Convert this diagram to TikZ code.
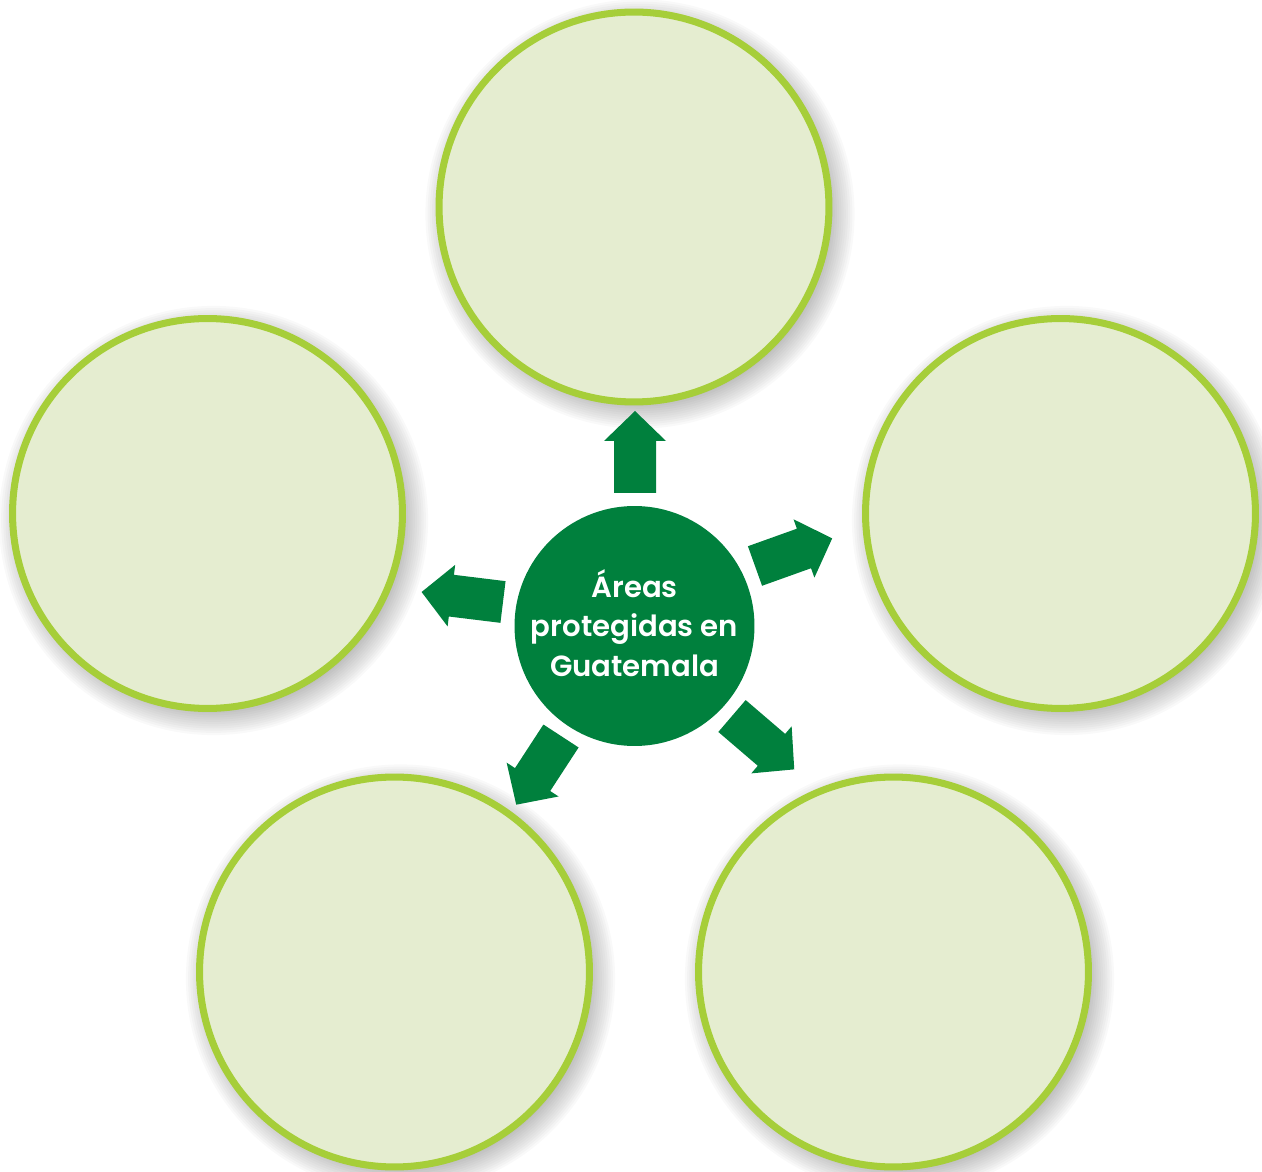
\documentclass[tikz,border=0pt]{standalone}
\usepackage{fontspec}
\IfFontExistsTF{Poppins SemiBold}
  {\newfontfamily\lblfont{Poppins SemiBold}\newcommand{\lblweight}{}}
  {\newfontfamily\lblfont{Poppins}\newcommand{\lblweight}{\bfseries}}
\usetikzlibrary{calc}
\definecolor{dgreen}{RGB}{0,128,61}
\definecolor{lgreen}{RGB}{166,206,57}
\definecolor{pale}{RGB}{229,237,208}
\tikzset{
  bubble/.style={circle, draw=lgreen, fill=pale, line width=4pt, minimum size=7.8cm, inner sep=0pt},
  hub/.style={circle, fill=dgreen, minimum size=4.8cm, inner sep=0pt, text=white,
    font=\lblfont\lblweight\fontsize{16.6}{22.3}\selectfont, align=center},
  blockarrow/.style={fill=dgreen, draw=none}
}
\newcommand{\softshadow}[1]{%
  \foreach \i in {0,...,13}{%
    \pgfmathsetmacro{\rr}{(186+\i*2.2)*0.02}
    \fill[black, opacity=0.022] ($(#1.center)+(6,7)$) circle[radius=\rr cm];
  }}
\newcommand{\greenarrow}[3]{%
  \begin{scope}[shift={(#1,#2)}, rotate=#3]
    \fill[blockarrow] (0,-21) -- (52,-21) -- (52,-31) -- (82,0) -- (52,31) -- (52,21) -- (0,21) -- cycle;
  \end{scope}}
\begin{document}
\begin{tikzpicture}[x=0.02cm, y=-0.02cm]
\useasboundingbox (0,0) rectangle (1262,1172);
\coordinate (ptop) at (634,207);
\coordinate (pright) at (1060.5,513.5);
\coordinate (pleft) at (207.5,513.5);
\coordinate (pbl) at (394.5,972);
\coordinate (pbr) at (893.5,972);
\foreach \p in {ptop,pright,pleft,pbl,pbr}{\softshadow{\p}}
\node[bubble] (top) at (ptop) {};
\node[bubble] (right) at (pright) {};
\node[bubble] (left) at (pleft) {};
\node[bubble] (bl) at (pbl) {};
\node[bubble] (br) at (pbr) {};
\node[circle, fill=dgreen, minimum size=4.8cm, inner sep=0pt] (center) at (634.5,626) {};
\node[hub, fill=none, minimum size=0pt] (label) at (634.5,623) {Áreas\\protegidas en\\Guatemala};
\greenarrow{635}{493}{90}
\greenarrow{755}{566}{19.7}
\greenarrow{503}{602}{173}
\greenarrow{561}{736}{236.9}
\greenarrow{732}{716}{-40.6}
\end{tikzpicture}
\end{document}
